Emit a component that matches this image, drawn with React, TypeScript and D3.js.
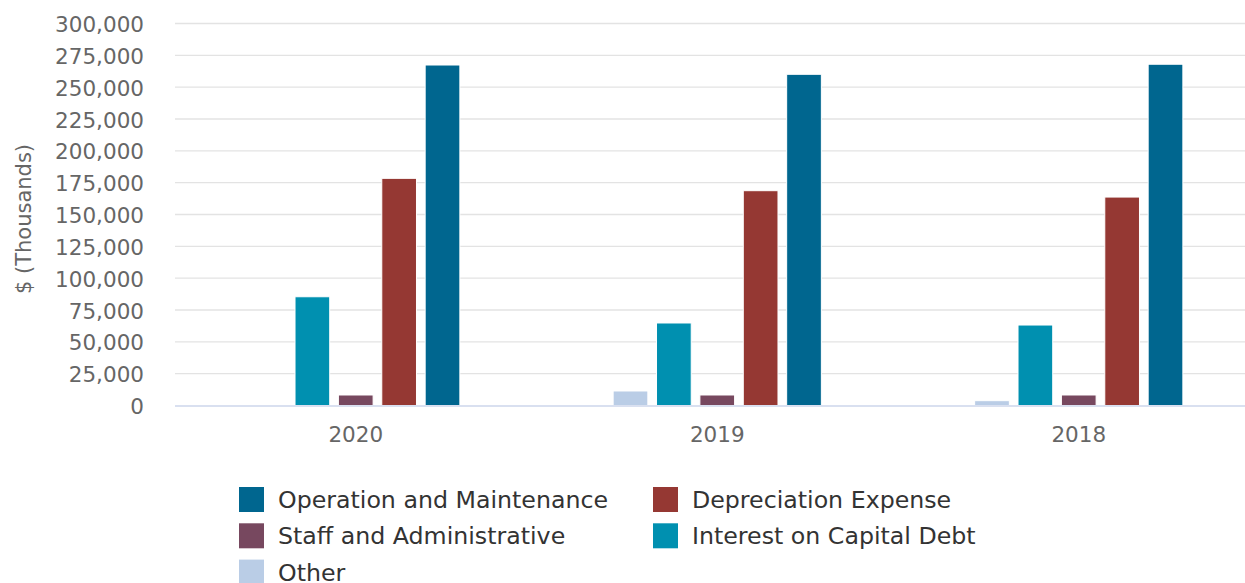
import React from "react";
import * as d3 from "d3";

const categories = ["2020", "2019", "2018"];
const seriesNames = [
  "Other",
  "Interest on Capital Debt",
  "Staff and Administrative",
  "Depreciation Expense",
  "Operation and Maintenance",
];
const seriesColors = ["#BACDE6", "#0090B0", "#77485F", "#953833", "#00668F"];
const otherValues = [0, 11400, 3800];
const interestValues = [85400, 64800, 63200];
const staffValues = [8250, 8250, 8250];
const depreciationValues = [178400, 168700, 163700];
const omValues = [267400, 260100, 268000];
const seriesValues = [otherValues, interestValues, staffValues, depreciationValues, omValues];
const yTicks = d3.range(0, 300001, 25000);
const legendOrder = [
  "Operation and Maintenance",
  "Depreciation Expense",
  "Staff and Administrative",
  "Interest on Capital Debt",
  "Other",
];

const W = 1245;
const H = 583;
const FONT = "'DejaVu Sans', Verdana, sans-serif";

export default function App() {
  const left = 175;
  const right = 1259.5;
  const top = 23.5;
  const bottom = 405.5;

  const x0 = d3.scaleBand<string>().domain(categories).range([left, right]).paddingInner(0).paddingOuter(0);
  const catW = x0.bandwidth();
  const groupPad = catW * 0.2;
  const x1 = d3
    .scaleBand<string>()
    .domain(seriesNames)
    .range([0, catW - 2 * groupPad])
    .paddingInner(0.2)
    .paddingOuter(0.1);
  const y = d3.scaleLinear().domain([0, 300000]).range([bottom, top]);
  const fmt = d3.format(",");

  return (
    <svg
      width={W}
      height={H}
      style={{ position: "absolute", left: 0, top: 0, background: "#fff" }}
      fontFamily={FONT}
    >
      <rect x={0} y={0} width={W} height={H} fill="#fff" />
      {yTicks.map((t) =>
        t === 0 ? null : (
          <line key={"g" + t} x1={left} x2={W} y1={y(t)} y2={y(t)} stroke="#e3e3e3" strokeWidth={1.3} />
        )
      )}
      {yTicks.map((t) => (
        <text key={"yt" + t} x={144} y={y(t) + 8.5} textAnchor="end" fontSize={21.5} fill="#666">
          {fmt(t)}
        </text>
      ))}
      <text
        transform={`translate(31,219) rotate(-90)`}
        textAnchor="middle"
        fontSize={21}
        fill="#666"
      >
        $ (Thousands)
      </text>
      {categories.map((c, ci) =>
        seriesNames.map((s, si) => {
          const v = seriesValues[si][ci];
          const bx = (x0(c) as number) + groupPad + (x1(s) as number);
          return (
            <rect
              key={c + s}
              x={bx}
              y={y(v)}
              width={x1.bandwidth()}
              height={bottom - y(v)}
              fill={seriesColors[si]}
              stroke="#fff"
              strokeWidth={1}
            />
          );
        })
      )}
      <line x1={left} x2={W} y1={bottom + 0.5} y2={bottom + 0.5} stroke="#ccd6eb" strokeWidth={1.5} />
      {categories.map((c) => (
        <text
          key={"xl" + c}
          x={(x0(c) as number) + catW / 2}
          y={442}
          textAnchor="middle"
          fontSize={21.5}
          fill="#666"
        >
          {c}
        </text>
      ))}
      {legendOrder.map((name, i) => {
        const col = i % 2;
        const row = Math.floor(i / 2);
        const sx = col === 0 ? 239 : 653;
        const cy = 499.5 + row * 36.3;
        const si = seriesNames.indexOf(name);
        return (
          <g key={"lg" + name}>
            <rect x={sx} y={cy - 12.5} width={25} height={25} fill={seriesColors[si]} />
            <text x={sx + 39} y={cy + 8.5} fontSize={23.7} fill="#333">
              {name}
            </text>
          </g>
        );
      })}
    </svg>
  );
}
